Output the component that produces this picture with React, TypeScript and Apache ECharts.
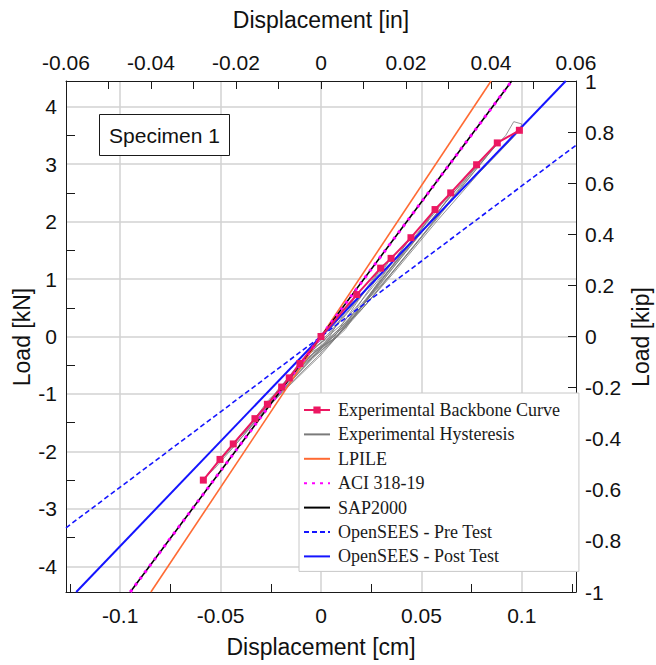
import React, { useEffect, useRef } from "react";
import * as echarts from "echarts";

// Tick values
const cmGridTicks = [-0.1, -0.05, 0, 0.05, 0.1];
const cmMinorTicks = [-0.125, -0.075, -0.025, 0.025, 0.075, 0.125];
const kNGridTicks = [-4, -3, -2, -1, 0, 1, 2, 3, 4];
const kNMinorTicks = [-3.5, -2.5, -1.5, -0.5, 0.5, 1.5, 2.5, 3.5];

// Series data (x: displacement [cm], y: load [kN])
const backbone = [
  [-0.0586, -2.5], [-0.0503, -2.14], [-0.0437, -1.87], [-0.0329, -1.43],
  [-0.0267, -1.18], [-0.0196, -0.88], [-0.0158, -0.72], [-0.0105, -0.47],
  [0, 0],
  [0.0178, 0.73], [0.0297, 1.19], [0.0349, 1.36], [0.0448, 1.72],
  [0.0568, 2.21], [0.0646, 2.5], [0.0775, 2.99], [0.0878, 3.37], [0.0988, 3.59],
];

const hysteresis = [
  [0, 0], [0.006, 0.18], [0.012, 0.45], [0.018, 0.74], [0.014, 0.52], [0.008, 0.22], [0.004, -0.02],
  [-0.004, -0.2], [-0.01, -0.45], [-0.007, -0.32], [-0.002, -0.12], [0.003, 0.02],
  [0.01, 0.3], [0.02, 0.72], [0.03, 1.2], [0.026, 0.98], [0.018, 0.6], [0.01, 0.18], [0.006, -0.05],
  [-0.006, -0.3], [-0.016, -0.72], [-0.012, -0.55], [-0.005, -0.26], [0.002, -0.05],
  [0.012, 0.36], [0.024, 0.88], [0.035, 1.37], [0.031, 1.16], [0.022, 0.72], [0.014, 0.3], [0.008, 0.0],
  [-0.004, -0.3], [-0.012, -0.52], [-0.02, -0.88], [-0.016, -0.7], [-0.008, -0.38], [0.0, -0.1],
  [0.01, 0.2], [0.022, 0.7], [0.034, 1.22], [0.045, 1.73], [0.04, 1.5], [0.03, 1.02], [0.02, 0.52],
  [0.012, 0.12], [0.004, -0.14], [-0.01, -0.52], [-0.02, -0.86], [-0.027, -1.18], [-0.022, -0.98],
  [-0.012, -0.58], [-0.002, -0.22],
  [0.01, 0.16], [0.022, 0.64], [0.036, 1.24], [0.047, 1.72], [0.057, 2.21], [0.052, 1.98], [0.04, 1.44],
  [0.028, 0.9], [0.016, 0.34], [0.008, 0.02], [-0.006, -0.4], [-0.018, -0.84], [-0.026, -1.1],
  [-0.033, -1.43], [-0.028, -1.24], [-0.016, -0.74], [-0.004, -0.3],
  [0.008, 0.06], [0.02, 0.52], [0.034, 1.12], [0.048, 1.72], [0.058, 2.14], [0.065, 2.5], [0.06, 2.3],
  [0.048, 1.78], [0.034, 1.16], [0.02, 0.5], [0.01, 0.08], [-0.004, -0.38], [-0.02, -0.96],
  [-0.032, -1.4], [-0.044, -1.87], [-0.038, -1.66], [-0.024, -1.08], [-0.01, -0.52],
  [0.004, -0.04], [0.018, 0.44], [0.034, 1.06], [0.05, 1.74], [0.064, 2.36], [0.078, 2.99], [0.072, 2.76],
  [0.058, 2.16], [0.042, 1.46], [0.026, 0.76], [0.012, 0.16], [-0.002, -0.36], [-0.02, -0.98],
  [-0.036, -1.56], [-0.05, -2.14], [-0.044, -1.94], [-0.03, -1.36], [-0.014, -0.72],
  [0.002, -0.14], [0.02, 0.46], [0.04, 1.3], [0.058, 2.06], [0.072, 2.68], [0.088, 3.37], [0.082, 3.12],
  [0.066, 2.5], [0.048, 1.74], [0.03, 0.98], [0.014, 0.24], [0.0, -0.32], [-0.02, -1.0],
  [-0.04, -1.74], [-0.059, -2.5], [-0.053, -2.3], [-0.036, -1.62], [-0.018, -0.9],
  [0.0, -0.2], [0.022, 0.54], [0.046, 1.56], [0.068, 2.52], [0.084, 3.2], [0.092, 3.5], [0.096, 3.74],
  [0.1, 3.7], [0.099, 3.59], [0.094, 3.4], [0.078, 2.82], [0.058, 2.02], [0.036, 1.1], [0.016, 0.3],
  [0.004, -0.14],
];

const lpile = [[-0.0847, -4.448], [0.0847, 4.448]];
const aci = [[-0.095, -4.448], [0.095, 4.448]];
const sap2000 = [[-0.095, -4.448], [0.095, 4.448]];
const openseesPre = [[-0.127, -3.33], [0.127, 3.33]];
const openseesPost = [[-0.1219, -4.448], [0.1219, 4.448]];

const legendNames = [
  "Experimental Backbone Curve",
  "Experimental Hysteresis",
  "LPILE",
  "ACI 318-19",
  "SAP2000",
  "OpenSEES - Pre Test",
  "OpenSEES - Post Test",
];

const SANS = "Liberation Sans";
const SERIF = "Liberation Serif";

export default function App() {
  const ref = useRef<HTMLDivElement>(null);

  useEffect(() => {
    if (!ref.current) return;
    const chart = echarts.init(ref.current, undefined, { renderer: "svg" });
    const axisLineStyle = { color: "#1a1a1a", width: 1 };
    const labelStyle = { fontFamily: SANS, fontSize: 21, color: "#111" };
    const gridLine = { show: true, lineStyle: { color: "#d2d2d2", width: 1.5 } };

    const lineSeries = (name: string, data: number[][], color: string, width: number, type: any, z: number) => ({
      name,
      type: "line",
      data,
      xAxisIndex: 0,
      yAxisIndex: 0,
      showSymbol: false,
      symbol: "none",
      silent: true,
      z,
      lineStyle: { color, width, type },
      itemStyle: { color },
      emphasis: { disabled: true },
    });

    chart.setOption({
      animation: false,
      grid: { left: 66, top: 81, width: 510, height: 511, containLabel: false },
      xAxis: [
        {
          type: "value",
          position: "bottom",
          min: -0.127,
          max: 0.127,
          axisLine: { show: true, onZero: false, lineStyle: axisLineStyle },
          axisTick: { show: false, customValues: cmGridTicks },
          axisLabel: { ...labelStyle, margin: 13, customValues: cmGridTicks },
          splitLine: gridLine,
        },
        {
          type: "value",
          position: "top",
          min: -0.06,
          max: 0.06,
          interval: 0.02,
          axisLine: { show: true, onZero: false, lineStyle: axisLineStyle },
          axisTick: { show: true, inside: true, length: 8, lineStyle: axisLineStyle },
          minorTick: { show: true, splitNumber: 2, length: 8, lineStyle: axisLineStyle },
          axisLabel: { ...labelStyle, margin: 8 },
          splitLine: { show: false },
        },
        {
          type: "value",
          position: "bottom",
          min: -0.127,
          max: 0.127,
          axisLine: { show: false, onZero: false },
          axisTick: { show: true, inside: true, length: 8, lineStyle: axisLineStyle, customValues: cmMinorTicks },
          axisLabel: { show: false },
          splitLine: { show: false },
        },
      ],
      yAxis: [
        {
          type: "value",
          position: "left",
          min: -4.448,
          max: 4.448,
          axisLine: { show: true, onZero: false, lineStyle: axisLineStyle },
          axisTick: { show: false, customValues: kNGridTicks },
          axisLabel: { ...labelStyle, margin: 9, customValues: kNGridTicks },
          splitLine: gridLine,
        },
        {
          type: "value",
          position: "right",
          min: -1,
          max: 1,
          interval: 0.2,
          axisLine: { show: true, onZero: false, lineStyle: axisLineStyle },
          axisTick: { show: true, inside: true, length: 8, lineStyle: axisLineStyle },
          axisLabel: { ...labelStyle, margin: 9 },
          splitLine: { show: false },
        },
        {
          type: "value",
          position: "left",
          min: -4.448,
          max: 4.448,
          axisLine: { show: false, onZero: false },
          axisTick: { show: true, inside: true, length: 9, lineStyle: axisLineStyle, customValues: kNMinorTicks },
          axisLabel: { show: false },
          splitLine: { show: false },
        },
      ],
      legend: {
        orient: "vertical",
        left: 299,
        top: 393,
        padding: [8, 19, 6, 4],
        itemGap: 6.4,
        itemWidth: 26,
        itemHeight: 9,
        backgroundColor: "#ffffff",
        borderColor: "#c8c8c8",
        borderWidth: 1,
        selectedMode: false,
        textStyle: { fontFamily: SERIF, fontSize: 18, lineHeight: 18, color: "#1a1a1a", padding: [0, 0, 0, 3] },
        data: legendNames.map((name, i) =>
          i === 0 ? { name } : { name, itemStyle: { opacity: 0 } }
        ),
      },
      series: [
        lineSeries("Experimental Hysteresis", hysteresis, "#7a7a7a", 0.8, "solid", 2),
        lineSeries("LPILE", lpile, "#ff6a33", 1.6, "solid", 3),
        lineSeries("SAP2000", sap2000, "#000000", 1.6, "solid", 3),
        lineSeries("ACI 318-19", aci, "#ff00ff", 3, [3, 5], 4),
        lineSeries("OpenSEES - Pre Test", openseesPre, "#1414ff", 1.6, [5, 3], 3),
        lineSeries("OpenSEES - Post Test", openseesPost, "#1414ff", 2, "solid", 3),
        {
          name: "Experimental Backbone Curve",
          type: "line",
          data: backbone,
          xAxisIndex: 0,
          yAxisIndex: 0,
          symbol: "rect",
          symbolSize: 7,
          showSymbol: true,
          silent: true,
          z: 6,
          lineStyle: { color: "#ec1862", width: 2 },
          itemStyle: { color: "#ec1862" },
          emphasis: { disabled: true },
        },
      ],
      graphic: [
        {
          type: "text",
          x: 321,
          y: 20,
          style: { text: "Displacement [in]", fontFamily: SANS, fontSize: 23, fill: "#111", textAlign: "center", textVerticalAlign: "middle" },
        },
        {
          type: "text",
          x: 321,
          y: 647,
          style: { text: "Displacement [cm]", fontFamily: SANS, fontSize: 23, fill: "#111", textAlign: "center", textVerticalAlign: "middle" },
        },
        {
          type: "text",
          x: 22,
          y: 337,
          rotation: Math.PI / 2,
          style: { text: "Load [kN]", fontFamily: SANS, fontSize: 23, fill: "#111", textAlign: "center", textVerticalAlign: "middle" },
        },
        {
          type: "text",
          x: 641,
          y: 337,
          rotation: Math.PI / 2,
          style: { text: "Load [kip]", fontFamily: SANS, fontSize: 23, fill: "#111", textAlign: "center", textVerticalAlign: "middle" },
        },
        {
          type: "rect",
          shape: { x: 99.5, y: 114.5, width: 130, height: 41 },
          style: { fill: "#ffffff", stroke: "#1a1a1a", lineWidth: 1 },
          z: 10,
        },
        {
          type: "text",
          x: 164.5,
          y: 135,
          z: 11,
          style: { text: "Specimen 1", fontFamily: SANS, fontSize: 21, fill: "#111", textAlign: "center", textVerticalAlign: "middle" },
        },
      ],
    });
    return () => chart.dispose();
  }, []);

  return (
    <div
      ref={ref}
      style={{ position: "fixed", left: 0, top: 0, width: 656, height: 665, background: "#ffffff" }}
    />
  );
}
